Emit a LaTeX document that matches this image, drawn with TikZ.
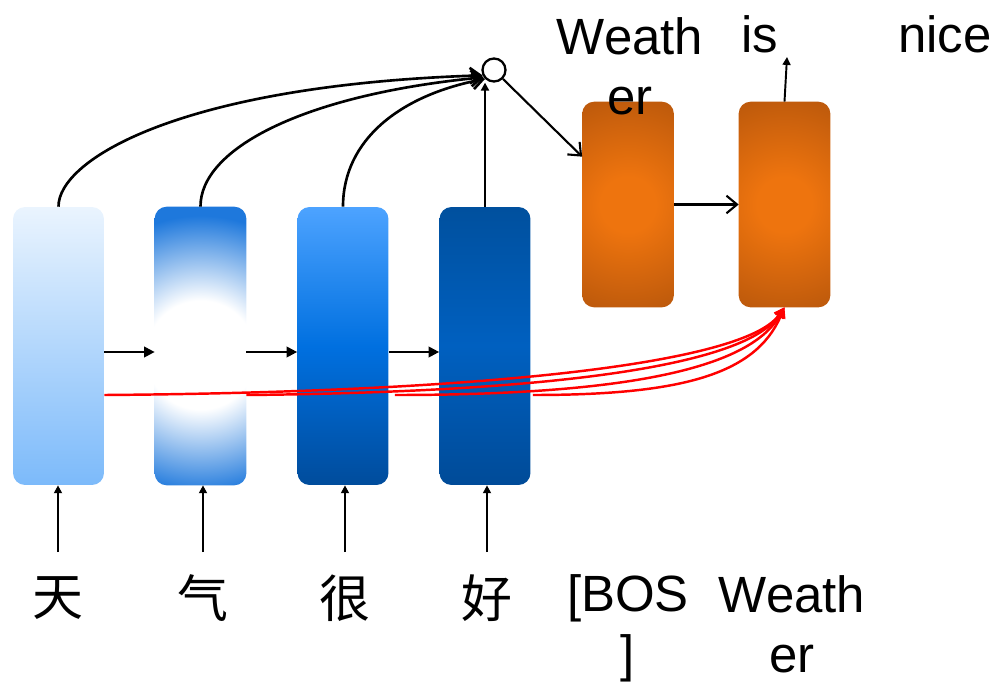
\documentclass[tikz,border=0pt]{standalone}
\usepackage{fontspec}
\setmainfont{Liberation Sans}
\newfontfamily\cjk{Noto Sans CJK SC}
\usetikzlibrary{arrows.meta,calc}

\definecolor{encAtop}{HTML}{EAF4FE}
\definecolor{encAbot}{HTML}{7CBAFA}
\definecolor{glowedge}{HTML}{1E78DC}
\definecolor{encCtop}{HTML}{4DA3FF}
\definecolor{encCmid}{HTML}{0070E0}
\definecolor{encCbot}{HTML}{004C9C}
\definecolor{encDtop}{HTML}{00509E}
\definecolor{encDmid}{HTML}{0060C0}
\definecolor{encDbot}{HTML}{004B98}
\definecolor{orin}{HTML}{EE740E}
\definecolor{orout}{HTML}{BE5A0C}

% the shaded circle spans 25bp of radius
\pgfdeclareradialshading{glowblue}{\pgfpoint{0bp}{0bp}}{color(0bp)=(white); color(8bp)=(white); color(20.5bp)=(glowedge); color(50bp)=(glowedge)}
\pgfdeclareradialshading{gloworange}{\pgfpoint{0bp}{0bp}}{color(0bp)=(orin); color(6bp)=(orin); color(23.5bp)=(orout); color(50bp)=(orout)}

\begin{document}
\begin{tikzpicture}[x=0.02cm,y=-0.02cm,
  box/.style={minimum width=1.82cm, minimum height=5.56cm, rounded corners=0.24cm, inner sep=0},
  obox/.style={minimum width=1.82cm, minimum height=4.1cm, rounded corners=0.24cm, inner sep=0},
  word/.style={font=\fontsize{29}{34.5}\selectfont, inner sep=0, align=center},
  hanzi/.style={font=\cjk\fontsize{29}{35}\selectfont, inner sep=0},
  flow/.style={line width=1.2pt, -{Triangle[length=6pt,width=6pt]}},
  upflow/.style={line width=1.1pt, -{Triangle[length=4.5pt,width=4.5pt]}},
  attn/.style={line width=1.5pt, -{Straight Barb[length=6pt,width=9pt]}},
  barb/.style={line width=1.2pt, -{Straight Barb[length=6pt,width=10pt]}},
  skip/.style={red, line width=1.4pt, -{Triangle[length=6pt,width=6pt]}},
]
\path[use as bounding box] (0,0) rectangle (998,683);

% encoder cells
\node[box, top color=encAtop, bottom color=encAbot] (b1) at (58.5,346) {};
\node[box] (b2) at (200.5,346) {};
\node[box, top color=encCtop, bottom color=encCbot, middle color=encCmid] (b3) at (343,346) {};
\node[box, top color=encDtop, bottom color=encDbot, middle color=encDmid] (b4) at (485,346) {};
\begin{scope}
  \clip[rounded corners=0.24cm] (b2.south west) rectangle (b2.north east);
  \shade[shading=glowblue] ($(b2.center)+(0,9)$) circle[radius=3.4cm];
\end{scope}

% decoder cells
\node[obox] (o1) at (628,204.5) {};
\node[obox] (o2) at (784.5,204.5) {};
\foreach \o in {o1,o2}{
  \begin{scope}
    \clip[rounded corners=0.24cm] (\o.south west) rectangle (\o.north east);
    \shade[shading=gloworange] (\o.center) circle[radius=2.3cm];
  \end{scope}
}

% attention sum
\node[circle, draw, line width=1.3pt, minimum size=0.46cm, inner sep=0] (c) at (494,70) {};

% labels
\node[word, anchor=north] (wtop) at (630,17) {Weath\\er};
\node[word, anchor=base] (is) at (760,52) {is};
\node[word, anchor=base] (nice) at (945,52) {nice};
\node[hanzi] (t1) at (58,598) {天};
\node[hanzi] (t2) at (203,598) {气};
\node[hanzi] (t3) at (345,598) {很};
\node[hanzi] (t4) at (487,598) {好};
\node[word, anchor=north] (bos) at (628,574) {[BOS\\]};
\node[word, anchor=north] (wbot) at (792,575) {Weath\\er};

% input arrows
\coordinate (s1) at (58,552);
\coordinate (s2) at (203,552);
\coordinate (s3) at (345,552);
\coordinate (s4) at (487,552);
\draw[upflow] (s1) -- (s1 |- b1.south);
\draw[upflow] (s2) -- (s2 |- b2.south);
\draw[upflow] (s3) -- (s3 |- b3.south);
\draw[upflow] (s4) -- (s4 |- b4.south);

% recurrence
\draw[flow] ($(b1.east)+(0,6)$) -- ($(b2.west)+(0,6)$);
\draw[flow] ($(b2.east)+(0,6)$) -- ($(b3.west)+(0,6)$);
\draw[flow] ($(b3.east)+(0,6)$) -- ($(b4.west)+(0,6)$);

% attention
\draw[attn] (b1.north) .. controls (58,160) and (180,85) .. (c.205);
\draw[attn] (b2.north) .. controls (200,150) and (300,95) .. (c.215);
\draw[attn] (b3.north) .. controls (343,140) and (400,95) .. (c.225);
\draw[upflow, line width=1.3pt] (b4.north) -- (b4.north |- c.south);

% decoder
\draw[barb] (c.315) -- ($(o1.north west)+(0,55)$);
\draw[barb] (o1.east) -- (o2.west);
\coordinate (isend) at (787,57);
\draw[upflow] (o2.north) -- (isend);

% skip connections
\draw[skip] ($(b1.east)+(0,49)$) .. controls (500,392) and (745,362) .. (o2.south);
\draw[skip] ($(b2.east)+(0,49)$) .. controls (560,392) and (745,365) .. (o2.south);
\draw[skip] ($(b3.east)+(6,49)$) .. controls (620,395) and (748,370) .. (o2.south);
\draw[skip] ($(b4.east)+(2,49)$) .. controls (680,395) and (755,375) .. (o2.south);
\end{tikzpicture}
\end{document}
